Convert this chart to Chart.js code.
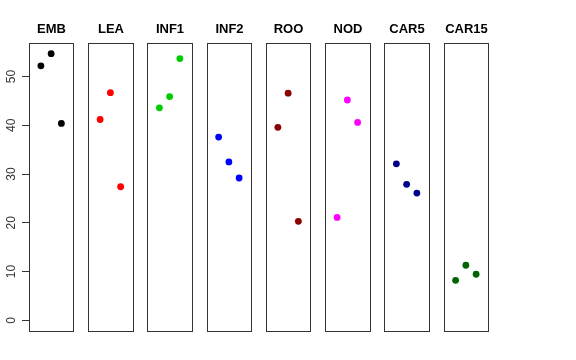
<!DOCTYPE html>
<html>
<head>
<meta charset="utf-8">
<script src="https://cdn.jsdelivr.net/npm/chart.js@4"></script>
<style>
  html, body { margin: 0; padding: 0; background: #fff; }
  #wrap { width: 576px; height: 360px; }
</style>
</head>
<body>
<div id="wrap"><canvas id="chart" width="576" height="360"></canvas></div>
<script>
// groups and their colours
const groups = ['EMB', 'LEA', 'INF1', 'INF2', 'ROO', 'NOD', 'CAR5', 'CAR15'];
const colors = ['#000000', '#ff0000', '#00cd00', '#0000ff', '#8b0000', '#ff00ff', '#00008b', '#006400'];

// three values per group (left, middle, right)
const emb   = [52.2, 54.7, 40.4];
const lea   = [41.2, 46.7, 27.4];
const inf1  = [43.6, 45.9, 53.7];
const inf2  = [37.6, 32.5, 29.2];
const roo   = [39.6, 46.6, 20.3];
const nod   = [21.1, 45.2, 40.6];
const car5  = [32.1, 27.9, 26.1];
const car15 = [8.2, 11.3, 9.45];
const values = [emb, lea, inf1, inf2, roo, nod, car5, car15];

const yTicks = [0, 10, 20, 30, 40, 50];
const slots = [1, 2, 3];

// panel layout in x units
const PITCH = 5.78;
const BOX_LO = -0.16, BOX_HI = 4.16;
const yMax = 54.7, yPad = yMax * 0.04;
const FONT = '"Liberation Sans", Arial, sans-serif';

const datasets = groups.map((g, i) => ({
  label: g,
  data: values[i].map((v, j) => ({ x: i * PITCH + slots[j], y: v })),
  backgroundColor: colors[i],
  borderColor: colors[i],
  pointRadius: 3.4,
  pointBorderWidth: 0
}));

// draws the panel boxes, titles and the rotated y labels
const panels = {
  id: 'panels',
  afterDatasetsDraw(chart) {
    const { ctx, chartArea, scales } = chart;
    ctx.save();
    ctx.strokeStyle = '#333';
    ctx.lineWidth = 1;
    ctx.fillStyle = '#000';
    ctx.font = 'bold 13px ' + FONT;
    ctx.textAlign = 'center';
    ctx.textBaseline = 'middle';
    groups.forEach((g, i) => {
      const l = Math.round(scales.x.getPixelForValue(i * PITCH + BOX_LO)) + 0.5;
      const r = Math.round(scales.x.getPixelForValue(i * PITCH + BOX_HI)) + 0.5;
      const t = Math.round(chartArea.top) + 0.5;
      const b = Math.round(chartArea.bottom) + 0.5;
      ctx.strokeRect(l, t, r - l, b - t);
      ctx.fillText(g, (l + r) / 2, 29);
    });
    ctx.fillStyle = '#333';
    ctx.font = '12px ' + FONT;
    yTicks.forEach(v => {
      ctx.save();
      ctx.translate(11.5, scales.y.getPixelForValue(v));
      ctx.rotate(-Math.PI / 2);
      ctx.fillText(String(v), 0, 0);
      ctx.restore();
    });
    ctx.restore();
  }
};

new Chart(document.getElementById('chart'), {
  type: 'scatter',
  data: { datasets },
  plugins: [panels],
  options: {
    responsive: false,
    animation: false,
    layout: { padding: { left: 0, right: 88, top: 43, bottom: 29 } },
    plugins: { legend: { display: false }, tooltip: { enabled: false } },
    scales: {
      x: {
        type: 'linear',
        display: false,
        min: BOX_LO,
        max: 7 * PITCH + BOX_HI
      },
      y: {
        type: 'linear',
        min: -yPad,
        max: yMax + yPad,
        afterBuildTicks: s => { s.ticks = yTicks.map(v => ({ value: v })); },
        afterFit: s => { s.width = 29; },
        border: { display: false },
        grid: { drawOnChartArea: false, drawTicks: true, tickLength: 7, color: '#333' },
        ticks: { display: false }
      }
    }
  }
});
</script>
</body>
</html>
